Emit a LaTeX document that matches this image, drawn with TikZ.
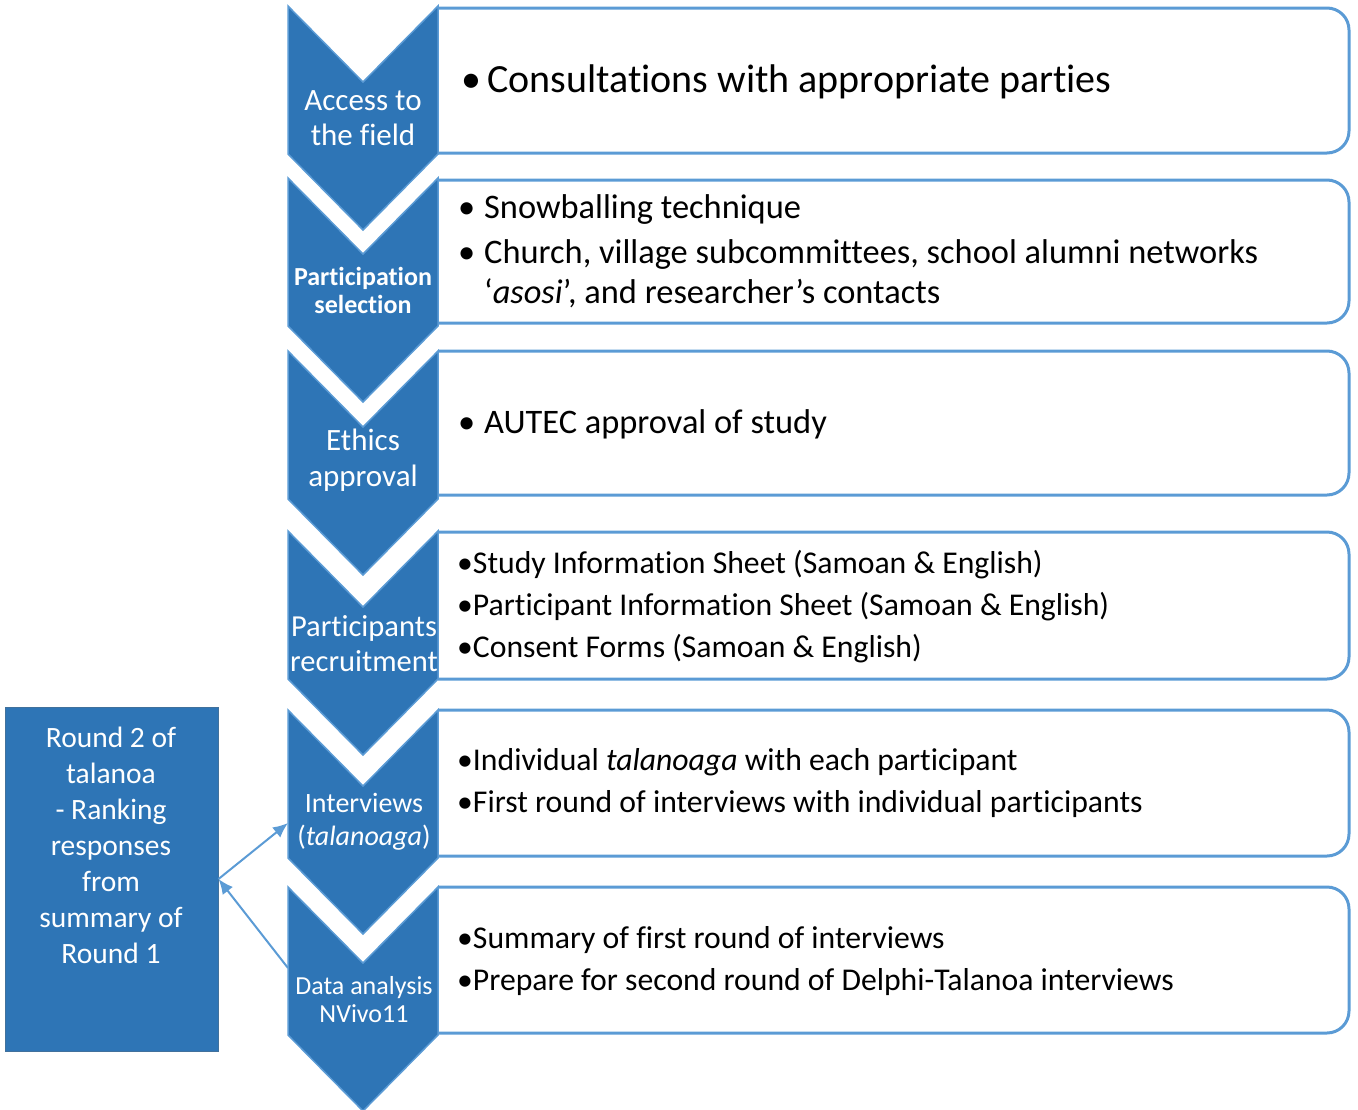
\documentclass[tikz,border=0pt]{standalone}
\usepackage{fontspec}
\setmainfont{Carlito}[Ligatures=NoCommon]
\usetikzlibrary{arrows.meta}

\definecolor{chevblue}{HTML}{2E75B6}
\definecolor{lineblue}{HTML}{5B9BD5}
\definecolor{edgeblue}{HTML}{41719C}

\tikzset{
  chev/.style={fill=chevblue, draw=lineblue, line width=1.5pt, line join=miter},
  itembox/.style={draw=lineblue, line width=3pt, rounded corners=22pt},
  steptext/.style={text=white, align=center, inner sep=0pt},
  item/.style={anchor=base west, inner sep=0pt, text=black},
  link/.style={draw=lineblue, line width=2pt, -{Latex[length=15pt,width=13pt]}},
}

\begin{document}
\begin{tikzpicture}[x=1pt, y=-1pt]
\useasboundingbox (0,0) rectangle (1358,1109);

% Cajas de texto
\foreach \t/\b in {8/153, 180/323, 351/495, 532/679, 710/856, 887/1033} {
  \begin{scope}
    \clip (438,\t-6) rectangle (1358,\b+6);
    \draw[itembox] (400,\t) rectangle (1349,\b);
  \end{scope}
}

% Flechas (chevrons)
\foreach \t in {6, 178, 351, 531, 710, 887}
  \draw[chev] (288,\t) -- (363,\t+76) -- (438,\t) -- (438,\t+148)
    -- (363,\t+224) -- (288,\t+148) -- cycle;

\node[steptext, font=\fontsize{31}{35}\selectfont] (access) at (363,118) {Access to\\the field};
\node[steptext, font=\bfseries\fontsize{26}{28}\selectfont] (select) at (363,290) {Participation\\selection};
\node[steptext, font=\fontsize{31}{36}\selectfont] (ethics) at (363,460) {Ethics\\approval};
\node[steptext, font=\fontsize{30.5}{35}\selectfont] (recruit) at (364,644) {Participants\\recruitment};
\node[steptext, font=\fontsize{28}{33}\selectfont] (interv) at (364,822) {Interviews\\(\textit{talanoaga})};
\node[steptext, font=\fontsize{26}{28}\selectfont] (analysis) at (364,1000) {Data analysis\\NVivo11};

% Texto de las cajas
\node[item, font=\fontsize{40}{45}\selectfont] (acc1) at (461,92) {\makebox[26pt][l]{•}Consultations with appropriate parties};

\node[item, font=\fontsize{34.4}{40}\selectfont] (sel1) at (458,218) {\makebox[26pt][l]{•}Snowballing technique};
\node[item, font=\fontsize{34.4}{40}\selectfont] (sel2) at (458,263) {\makebox[26pt][l]{•}Church, village subcommittees, school alumni networks};
\node[item, font=\fontsize{34.4}{40}\selectfont] (sel3) at (484,303) {‘\textit{asosi}’, and researcher’s contacts};

\node[item, font=\fontsize{34.4}{40}\selectfont] (eth1) at (458,433) {\makebox[26pt][l]{•}AUTEC approval of study};

\node[item, font=\fontsize{31.7}{36}\selectfont] (rec1) at (457,573) {•Study Information Sheet (Samoan \& English)};
\node[item, font=\fontsize{31.7}{36}\selectfont] (rec2) at (457,615) {•Participant Information Sheet (Samoan \& English)};
\node[item, font=\fontsize{31.7}{36}\selectfont] (rec3) at (457,657) {•Consent Forms (Samoan \& English)};

\node[item, font=\fontsize{31.7}{36}\selectfont] (int1) at (457,770) {•Individual \textit{talanoaga} with each participant};
\node[item, font=\fontsize{31.7}{36}\selectfont] (int2) at (457,812) {•First round of interviews with individual participants};

\node[item, font=\fontsize{31.7}{36}\selectfont] (dat1) at (457,948) {•Summary of first round of interviews};
\node[item, font=\fontsize{31.7}{36}\selectfont] (dat2) at (457,990) {•Prepare for second round of Delphi-Talanoa interviews};

% Caja de la ronda 2
\node[draw=edgeblue, fill=chevblue, line width=1pt, minimum width=213pt, minimum height=344pt, inner sep=0pt] (round2) at (111.5,879) {};
\node[steptext, font=\fontsize{29.5}{36}\selectfont] (round2txt) at (111,845) {Round 2 of\\talanoa\\- Ranking\\responses\\from\\summary of\\Round 1};

\coordinate (intw) at (288,823);
\coordinate (datw) at (288,968);
\draw[link] (round2.east) -- (intw);
\draw[link] (datw) -- (round2.east);
\end{tikzpicture}
\end{document}
